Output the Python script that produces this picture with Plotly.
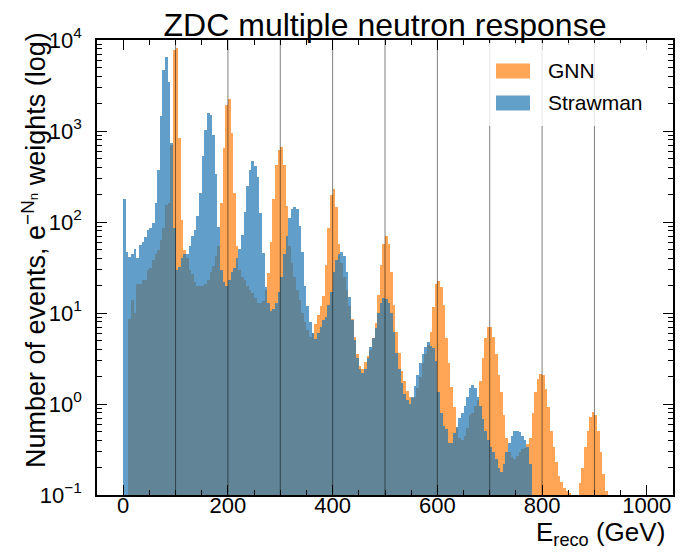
import numpy as np
import plotly.graph_objects as go

# ---------------- data ----------------
bin_edges = np.arange(0, 1005, 5)          # E_reco bin edges, GeV (5 GeV bins)

gnn_counts = [
    0, 0, 8.7, 13.8, 10, 21, 21, 23, 23, 30,                      # 0-50
    31, 38, 45, 49, 63, 85, 155, 160, 700, 7800,                  # 50-100
    8200, 830, 105, 49, 40, 30, 27, 22, 20, 20,                   # 100-150
    20, 21, 23, 28, 33, 42, 55, 162, 650, 1940,                   # 150-200
    2240, 960, 207, 55, 30, 25, 23, 20, 18, 16.5,                 # 200-250
    14.5, 13, 13, 13.5, 18, 27.5, 60, 180, 420, 620,              # 250-300
    670, 420, 150, 55, 35, 25, 18, 13.8, 9.9, 8,                  # 300-350
    6.5, 5.5, 6, 7.5, 9.5, 11.8, 15.5, 34, 85, 200,               # 350-400
    230, 146, 58, 35, 25, 18, 12, 8.5, 5.5, 3.5,                  # 400-450
    2.6, 2.4, 2.9, 3.4, 3.9, 5.3, 7.8, 15.8, 34, 57,              # 450-500
    70, 57, 28, 12.3, 6.2, 3.6, 2.3, 1.8, 1.4, 1.2,               # 500-550
    1.15, 1.2, 1.5, 2.0, 2.8, 3.5, 4.5, 6.2, 11.5, 21,            # 550-600
    22.6, 19.5, 12.4, 5.3, 2.8, 1.55, 0.93, 0.55, 0.42, 0.4,      # 600-650
    0.45, 0.55, 0.75, 0.8, 0.95, 1.1, 1.8, 3.2, 5.3, 7.0,         # 650-700
    7.1, 5.5, 3.5, 2.1, 1.36, 0.75, 0.42, 0.3, 0.26, 0.25,        # 700-750
    0.27, 0.3, 0.32, 0.33, 0.36, 0.42, 0.79, 1.36, 1.9, 2.15,     # 750-800
    2.1, 1.47, 0.93, 0.5, 0.34, 0.23, 0.16, 0.14, 0.12, 0.11,     # 800-850
    0.105, 0, 0, 0, 0.135, 0.2, 0.34, 0.51, 0.72, 0.82,           # 850-900
    0.76, 0.51, 0.30, 0.17, 0.11, 0, 0, 0, 0, 0,                  # 900-950
    0, 0, 0, 0, 0, 0, 0, 0, 0, 0,                                 # 950-1000
]

strawman_counts = [
    177, 47, 41, 45, 50, 40, 56, 60, 69, 82,                      # 0-50
    85, 97, 162, 375, 1450, 4650, 6560, 3490, 745, 85,            # 50-100
    30, 32, 40, 45, 44, 54, 71, 82, 115, 210,                     # 100-150
    525, 1030, 1560, 1500, 910, 340, 89, 30, 22, 20,              # 150-200
    23, 28, 31, 40, 50, 72, 130, 250, 375, 470,                   # 200-250
    410, 316, 126, 46, 19.5, 13, 10.5, 11, 13, 17,                # 250-300
    25, 45, 70, 110, 140, 148, 140, 90, 47, 20,                   # 300-350
    12, 8, 6, 5.2, 6, 7, 8.4, 9.1, 12.3, 17,                      # 350-400
    28, 38, 44, 47, 42, 28, 15, 8.4, 5, 3.2,                      # 400-450
    2.4, 2.2, 2.4, 3.2, 4.2, 5.3, 6.8, 9.9, 12.8, 14.5,           # 450-500
    14.3, 12.8, 9.9, 6.2, 3.6, 2.4, 1.7, 1.3, 1.1, 1.0,           # 500-550
    1.2, 1.57, 2.1, 2.8, 3.5, 4.2, 4.8, 4.3, 4.1, 3.0,            # 550-600
    1.37, 0.8, 0.57, 0.53, 0.37, 0.37, 0.48, 0.56, 0.7, 0.8,      # 600-650
    0.95, 1.2, 1.5, 1.6, 1.5, 1.2, 0.95, 0.68, 0.5, 0.4,          # 650-700
    0.34, 0.3, 0.25, 0.2, 0.18, 0.22, 0.3, 0.37, 0.45, 0.5,       # 700-750
    0.51, 0.49, 0.45, 0.40, 0.34, 0.22, 0, 0, 0, 0,               # 750-800
    0, 0, 0, 0, 0, 0, 0, 0, 0, 0,                                 # 800-850
    0, 0, 0, 0, 0, 0, 0, 0, 0, 0,                                 # 850-900
    0, 0, 0, 0, 0, 0, 0, 0, 0, 0,                                 # 900-950
    0, 0, 0, 0, 0, 0, 0, 0, 0, 0,                                 # 950-1000
]

series_names = ["GNN", "Strawman"]
reference_lines = [100, 200, 300, 400, 500, 600, 700, 800, 900]   # GeV
x_tick_values = [0, 200, 400, 600, 800, 1000]
y_tick_values = [0.1, 1, 10, 100, 1000, 10000]
y_tick_labels = ["10<sup>\u22121</sup>", "10<sup>0</sup>", "10<sup>1</sup>",
                 "10<sup>2</sup>", "10<sup>3</sup>", "10<sup>4</sup>"]

title_text = "ZDC multiple neutron response"
x_label = "E<sub>reco</sub> (GeV)"
y_label = "Number of events, e<sup>\u2212N<sub>n</sub></sup> weights (log)"

# ---------------- styling ----------------
WIN_W, WIN_H = 697, 558
OFF = 8                                  # default page (body) margin
W, H = WIN_W - OFF, WIN_H - OFF          # figure size so it fills the window
# plot-area box in window pixels, converted to figure pixels
L, R, T, B = 97 - OFF, 673 - OFF, 40 - OFF, 495 - OFF
FONT = "Liberation Sans, Arial, Helvetica, sans-serif"
ORANGE = "#ff7f0e"
BLUE = "#1f77b4"
ALPHA = 0.7


def px_x(p):
    """window pixel x -> paper coordinate"""
    return (p - OFF - L) / (R - L)


def px_y(p):
    """window pixel y -> paper coordinate"""
    return (B - (p - OFF)) / (B - T)


edges = np.asarray(bin_edges, dtype=float)
centers = 0.5 * (edges[:-1] + edges[1:])
widths = np.diff(edges)


def clean(vals):
    return [v if v > 0 else None for v in vals]


fig = go.Figure()
for name, vals, col in [(series_names[0], gnn_counts, ORANGE),
                        (series_names[1], strawman_counts, BLUE)]:
    fig.add_trace(go.Bar(
        x=centers, y=clean(vals), width=widths, name=name,
        marker=dict(color=col, line=dict(width=0)),
        opacity=ALPHA, showlegend=False,
    ))

minor_y = [m * 10.0 ** e for e in range(-1, 4) for m in range(2, 10)]

axis_common = dict(
    showline=True, linecolor="black", linewidth=1.5, mirror="allticks",
    ticks="inside", ticklen=10, tickwidth=1, tickcolor="black",
    showgrid=False, zeroline=False, automargin=False,
    tickfont=dict(family=FONT, size=22, color="black"),
)

fig.update_layout(
    width=W, height=H,
    margin=dict(l=L, r=W - R, t=T, b=H - B, pad=0, autoexpand=False),
    plot_bgcolor="white", paper_bgcolor="white",
    barmode="overlay", bargap=0, bargroupgap=0,
    font=dict(family=FONT, color="black"),
    title=dict(text=title_text, x=0.5, xref="paper", xanchor="center",
               y=1 - (25 - OFF) / H, yref="container", yanchor="middle",
               font=dict(family=FONT, size=32, color="black")),
    xaxis=dict(range=[-50, 1050], tickmode="array", tickvals=x_tick_values,
               minor=dict(dtick=50, tick0=0, ticks="inside", ticklen=5,
                          tickwidth=1, tickcolor="black", showgrid=False),
               ticklabelstandoff=-10, **axis_common),
    yaxis=dict(type="log", range=[-1, 4], tickmode="array",
               tickvals=y_tick_values, ticktext=y_tick_labels,
               minor=dict(tickmode="array", tickvals=minor_y, ticks="inside",
                          ticklen=5, tickwidth=1, tickcolor="black",
                          showgrid=False),
               ticklabelstandoff=9, **axis_common),
    showlegend=False,
)

shapes = []
for v in reference_lines:
    shapes.append(dict(type="line", xref="x", yref="paper", x0=v, x1=v,
                       y0=0, y1=1, layer="above",
                       line=dict(color="rgba(0,0,0,0.5)", width=1)))

# legend (matplotlib-like wide patches on a translucent white box)
shapes.append(dict(type="rect", xref="paper", yref="paper",
                   x0=px_x(484), x1=px_x(656), y0=px_y(126), y1=px_y(43),
                   fillcolor="rgba(255,255,255,0.8)", line=dict(width=0),
                   layer="above"))
legend_rows = [(series_names[0], ORANGE, 71), (series_names[1], BLUE, 103)]
annotations = []
for name, col, yc in legend_rows:
    shapes.append(dict(type="rect", xref="paper", yref="paper",
                       x0=px_x(496), x1=px_x(530),
                       y0=px_y(yc + 7.5), y1=px_y(yc - 7.5),
                       fillcolor=col, opacity=ALPHA, line=dict(width=0),
                       layer="above"))
    annotations.append(dict(text=name, xref="paper", yref="paper",
                            x=px_x(546), y=px_y(yc), xanchor="left",
                            yanchor="middle", showarrow=False,
                            font=dict(family=FONT, size=21, color="black")))

annotations.append(dict(text=x_label, xref="paper", yref="paper",
                        x=px_x(667), y=px_y(533), xanchor="right",
                        yanchor="middle", showarrow=False,
                        font=dict(family=FONT, size=26, color="black")))
annotations.append(dict(text=y_label, xref="paper", yref="paper",
                        x=px_x(34), y=px_y(250), xanchor="center",
                        yanchor="middle", textangle=-90, showarrow=False,
                        font=dict(family=FONT, size=27, color="black")))

fig.update_layout(shapes=shapes, annotations=annotations)

fig.write_html("out.html")
